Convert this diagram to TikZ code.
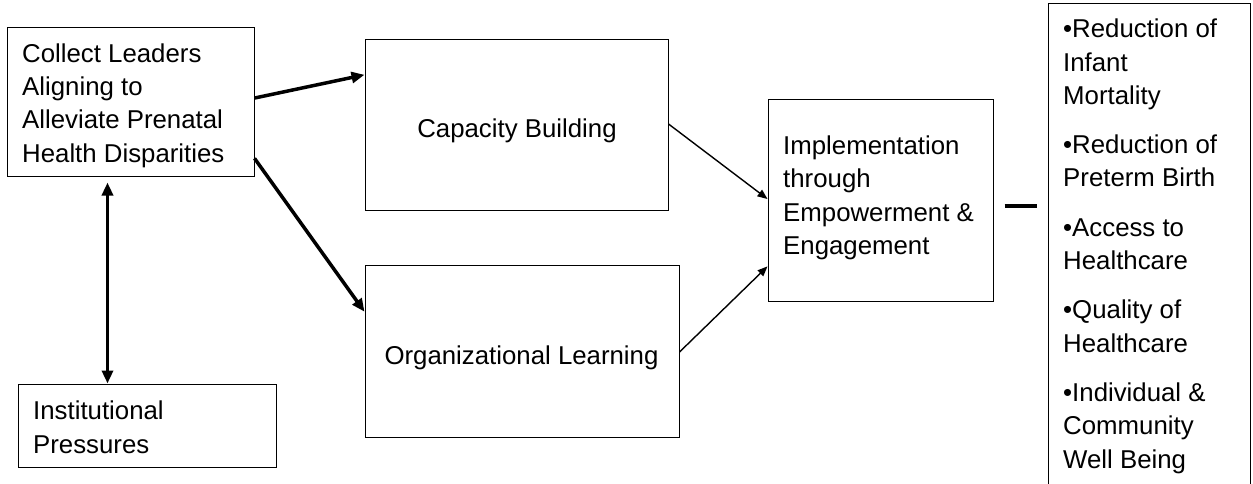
\documentclass[tikz,border=0pt]{standalone}
\usepackage{fontspec}
\setmainfont{Liberation Sans}
\usetikzlibrary{arrows.meta,calc}
\begin{document}
\begin{tikzpicture}[x=1pt,y=-1pt,
  box/.style={draw,line width=1pt,inner sep=0pt,minimum width=#1},
  txt/.style={inner sep=0pt,align=left,font=\fontsize{25.8}{33.3}\selectfont,anchor=base west},
  ctxt/.style={inner sep=0pt,align=center,font=\fontsize{25.8}{33.3}\selectfont,anchor=base},
  thick arrow/.style={line width=3.5pt,-{Triangle[length=13pt,width=11pt]}},
  thin arrow/.style={line width=1.4pt,-{Triangle[length=10pt,width=8pt]}}]
\useasboundingbox (0,0) rectangle (1253,483);
% boxes
\node[box=247pt,minimum height=149pt] (A) at (130.5,101.5) {};
\node[box=258pt,minimum height=83pt] (IP) at (147,425.5) {};
\node[box=303pt,minimum height=171pt] (CB) at (516.5,124.5) {};
\node[box=314pt,minimum height=172pt] (OL) at (522,351) {};
\node[box=225pt,minimum height=202pt] (IM) at (880.5,200) {};
\node[box=202pt,minimum height=500pt] (OUT) at (1149,253) {};
% texts (anchor = baseline of last line)
\node[txt] (At) at (22,162) {Collect Leaders\\Aligning to\\Alleviate Prenatal\\Health Disparities};
\node[txt] (IPt) at (33,453) {Institutional\\Pressures};
\node[ctxt] (CBt) at (517,137) {Capacity Building};
\node[ctxt] (OLt) at (521.5,364) {Organizational Learning};
\node[txt] (IMt) at (783,254.5) {Implementation\\through\\Empowerment \&\\Engagement};
\node[txt] (OUTt) at (1063,468) {•Reduction of\\Infant\\Mortality\\[16pt]•Reduction of\\Preterm Birth\\[16pt]•Access to\\Healthcare\\[16pt]•Quality of\\Healthcare\\[16pt]•Individual \&\\Community\\Well Being};
% connectors
\draw[thick arrow] ($(A.north east)!0.477!(A.south east)$) -- ($(CB.north west)!0.211!(CB.south west)$);
\draw[thick arrow] ($(A.north east)!0.879!(A.south east)$) -- ($(OL.north west)!0.273!(OL.south west)$);
\draw[line width=3.5pt,{Triangle[length=13pt,width=11pt]}-{Triangle[length=13pt,width=11pt]}] ($(A.south west)+(101,6)$) -- (IP.north -| {$(A.south west)+(101,6)$});
\draw[thin arrow] ($(CB.north east)!0.497!(CB.south east)$) -- ($(IM.north west)!0.495!(IM.south west)$);
\draw[thin arrow] ($(OL.north east)!0.506!(OL.south east)$) -- ($(IM.north west)!0.827!(IM.south west)$);
\draw[line width=4pt] ($(IM.east)+(11,6)$) -- ($(OUT.west |- IM.east)+(-11,6)$);
\end{tikzpicture}
\end{document}
